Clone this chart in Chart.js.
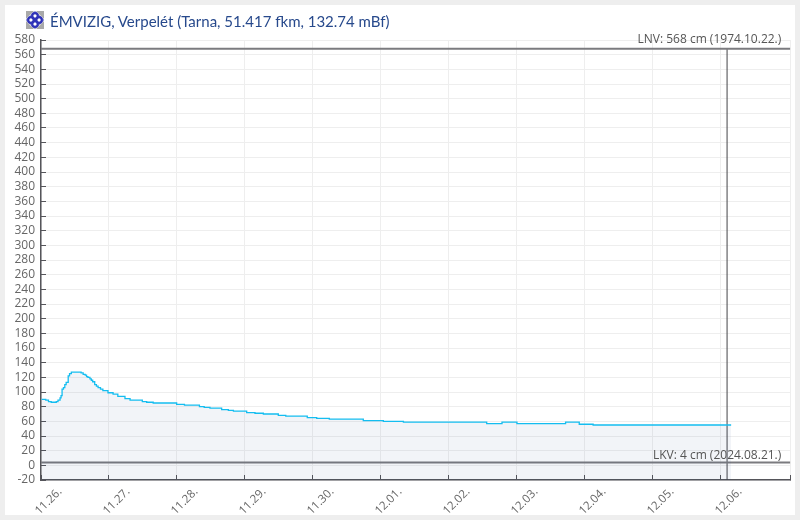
<!DOCTYPE html>
<html lang="hu">
<head>
<meta charset="utf-8">
<title>ÉMVIZIG, Verpelét</title>
<script src="https://cdn.jsdelivr.net/npm/chart.js@4"></script>
<style>
  html, body { margin: 0; padding: 0; background: #eeeeee; overflow: hidden; }
  #panel { position: absolute; left: 5px; top: 5px; width: 790px; height: 510px; background: #fff; }
  #wrap { position: absolute; left: 0; top: 0; width: 800px; height: 520px; }
  #icon { position: absolute; left: 25px; top: 10px; width: 20px; height: 20px; }
  #title { position: absolute; left: 50px; top: 12px; font: 15px Lato, sans-serif; color: #27498c; white-space: nowrap; }
</style>
</head>
<body>
<div id="panel"></div>
<div id="wrap"><canvas id="chart" width="800" height="520"></canvas></div>
<svg id="icon" viewBox="0 0 20 20">
  <rect x="1" y="1" width="18" height="18" fill="#a9a9a9"/>
  <path d="M10 0 L20 10 L10 20 L0 10 Z" fill="#ffffff"/>
  <path d="M10 1.5 L18.5 10 L10 18.5 L1.5 10 Z" fill="none" stroke="#3337b5" stroke-width="1"/>
  <circle cx="10" cy="6" r="2.8" fill="none" stroke="#2f33b8" stroke-width="2.2"/>
  <circle cx="10" cy="14" r="2.8" fill="none" stroke="#2f33b8" stroke-width="2.2"/>
  <circle cx="6" cy="10" r="2.8" fill="none" stroke="#2f33b8" stroke-width="2.2"/>
  <circle cx="14" cy="10" r="2.8" fill="none" stroke="#2f33b8" stroke-width="2.2"/>
</svg>
<div id="title">ÉMVIZIG, Verpelét (Tarna, 51.417 fkm, 132.74 mBf)</div>
<script>
// x tengely feliratai (napok 11.26-tól)
const napok = ['11.26.', '11.27.', '11.28.', '11.29.', '11.30.', '12.01.', '12.02.', '12.03.', '12.04.', '12.05.', '12.06.'];

// vízállás: eltelt nap, cm
const idok = [0.01, 0.07, 0.11, 0.15, 0.225, 0.25, 0.28, 0.295, 0.31, 0.33, 0.35, 0.37, 0.4, 0.42, 0.446, 0.59, 0.62, 0.65, 0.67, 0.69, 0.72, 0.74, 0.76, 0.79, 0.815, 0.84, 0.875, 0.91, 0.985, 1.06, 1.13, 1.235, 1.31, 1.49, 1.554, 1.65, 1.995, 2.11, 2.33, 2.4, 2.485, 2.657, 2.755, 2.83, 3.025, 3.147, 3.27, 3.49, 3.6, 3.916, 4.055, 4.24, 4.74, 5.035, 5.33, 6.555, 6.78, 7.0, 7.715, 7.916, 8.12, 10.15];
const vizallas = [90, 89, 87, 86, 87, 89, 92, 95, 104, 106, 110, 113, 122, 125, 127, 126, 124, 123, 121, 120, 118, 116, 114, 110, 108, 106, 104, 102, 99, 97, 94, 91, 89, 87, 86, 85, 83, 82, 80, 79, 78, 76, 75, 74, 72, 71, 70, 68, 67, 65, 64, 63, 61, 60, 59, 57, 59, 57, 59, 56, 55, 55];

const lnv = 568;
const lkv = 4;
const lnvSzoveg = 'LNV: 568 cm (1974.10.22.)';
const lkvSzoveg = 'LKV: 4 cm (2024.08.21.)';
const most = 10.09;
const xMax = 11.02;

const betu = '"Open Sans", sans-serif';

// LNV / LKV feliratok a vonalak fölé
const feliratok = {
  id: 'feliratok',
  afterDraw(chart) {
    const ctx = chart.ctx;
    const y = chart.scales.y;
    const right = chart.chartArea.right - 9;
    ctx.save();
    ctx.font = '12px ' + betu;
    ctx.fillStyle = '#555';
    ctx.textAlign = 'right';
    ctx.textBaseline = 'bottom';
    ctx.fillText(lnvSzoveg, right, y.getPixelForValue(lnv) - 3);
    ctx.fillText(lkvSzoveg, right, y.getPixelForValue(lkv) - 1);
    ctx.restore();
  }
};

new Chart(document.getElementById('chart'), {
  type: 'line',
  data: {
    datasets: [
      {
        data: idok.map((x, i) => ({ x: x, y: vizallas[i] })),
        borderColor: '#14bdf0',
        borderWidth: 1.3,
        backgroundColor: 'rgba(40, 65, 130, 0.06)',
        fill: 'start',
        stepped: true,
        pointRadius: 0
      },
      {
        data: [{ x: 0, y: lnv }, { x: xMax, y: lnv }],
        borderColor: '#7b7b7f',
        borderWidth: 2,
        pointRadius: 0
      },
      {
        data: [{ x: 0, y: lkv }, { x: xMax, y: lkv }],
        borderColor: '#7b7b7f',
        borderWidth: 2,
        pointRadius: 0
      },
      {
        data: [{ x: most, y: -20 }, { x: most, y: lnv }],
        borderColor: '#444448',
        borderWidth: 1,
        pointRadius: 0
      }
    ]
  },
  options: {
    responsive: false,
    animation: false,
    layout: { autoPadding: false, padding: { top: 40, right: 9.7, left: 0, bottom: 0 } },
    plugins: { legend: { display: false }, tooltip: { enabled: false }, title: { display: false } },
    scales: {
      x: {
        type: 'linear',
        min: 0,
        max: xMax,
        afterFit(s) { s.height = 40; s.paddingLeft = 0; s.paddingRight = 0; },
        grid: { color: '#eeeeee', tickColor: '#55555a', tickLength: -5 },
        border: { color: '#55555a', width: 1.5 },
        ticks: {
          stepSize: 1,
          autoSkip: false,
          maxRotation: 45,
          minRotation: 45,
          padding: 10,
          labelOffset: 19,
          color: '#666',
          font: { family: betu, size: 11.5 },
          callback: v => napok[v] || ''
        }
      },
      y: {
        min: -20,
        max: 580,
        afterFit(s) { s.width = 41; s.paddingTop = 0; s.paddingBottom = 0; },
        grid: { color: '#eeeeee', tickColor: '#55555a', tickLength: -5 },
        border: { color: '#55555a', width: 1.5 },
        ticks: {
          stepSize: 20,
          autoSkip: false,
          padding: 11,
          color: '#666',
          font: { family: betu, size: 12 }
        }
      }
    }
  },
  plugins: [feliratok]
});
</script>
</body>
</html>
